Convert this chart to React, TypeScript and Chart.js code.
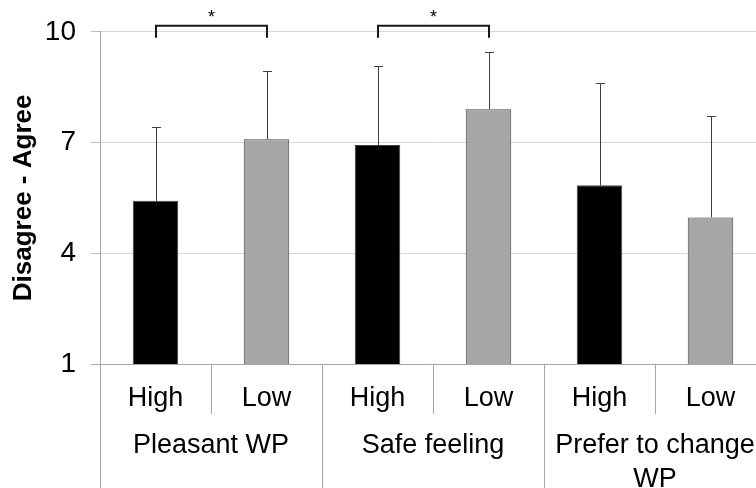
import React, { useEffect, useRef } from "react";
import { Chart, registerables } from "chart.js";

Chart.register(...registerables);

const conditions = ["High", "Low", "High", "Low", "High", "Low"];
const groups: string[][] = [["Pleasant WP"], ["Safe feeling"], ["Prefer to change", "WP"]];
const means = [5.42, 7.09, 6.93, 7.9, 5.84, 4.97];
const sds = [2.0, 1.86, 2.13, 1.56, 2.78, 2.74];
const barColors = ["#000000", "#a6a6a6", "#000000", "#a6a6a6", "#000000", "#a6a6a6"];
const sigPairs: number[][] = [[0, 1], [2, 3]];
const sigLabels = ["*", "*"];
const yTicks = [1, 4, 7, 10];

const FONT = "'Liberation Sans', Arial, sans-serif";

const overlayPlugin = {
  id: "overlay",
  afterDatasetsDraw(chart: any) {
    const ctx = chart.ctx;
    const y = chart.scales.y;
    const meta = chart.getDatasetMeta(0);
    ctx.save();
    ctx.strokeStyle = "#404040";
    ctx.lineWidth = 1;
    means.forEach((m, i) => {
      const bx = Math.round(meta.data[i].x) + 0.5;
      const y0 = y.getPixelForValue(m);
      const y1 = Math.round(y.getPixelForValue(m + sds[i])) + 0.5;
      ctx.beginPath();
      ctx.moveTo(bx, y0);
      ctx.lineTo(bx, y1);
      ctx.moveTo(bx - 4.5, y1);
      ctx.lineTo(bx + 4.5, y1);
      ctx.stroke();
    });
    ctx.restore();
  },
  afterDraw(chart: any) {
    const ctx = chart.ctx;
    const x = chart.scales.x;
    const area = chart.chartArea;
    const H = chart.height;
    const meta = chart.getDatasetMeta(0);
    ctx.save();
    const by = Math.round(area.bottom) + 0.5;
    ctx.strokeStyle = "#a6a6a6";
    ctx.lineWidth = 1;
    ctx.beginPath();
    ctx.moveTo(area.left - 9, by);
    ctx.lineTo(area.right, by);
    ctx.stroke();
    const lx = Math.round(area.left) + 0.5;
    ctx.beginPath();
    ctx.moveTo(lx, area.top);
    ctx.lineTo(lx, H);
    ctx.stroke();
    for (let i = 1; i < conditions.length; i++) {
      const sx = Math.round((x.getPixelForValue(i - 1) + x.getPixelForValue(i)) / 2) + 0.5;
      ctx.beginPath();
      ctx.moveTo(sx, by);
      ctx.lineTo(sx, i % 2 === 0 ? H : area.bottom + 50);
      ctx.stroke();
    }
    ctx.fillStyle = "#000";
    ctx.textAlign = "center";
    ctx.textBaseline = "middle";
    ctx.font = `27px ${FONT}`;
    conditions.forEach((c, i) => {
      ctx.fillText(c, x.getPixelForValue(i), area.bottom + 35);
    });
    groups.forEach((lines, g) => {
      const cx = (x.getPixelForValue(2 * g) + x.getPixelForValue(2 * g + 1)) / 2;
      lines.forEach((ln, k) => {
        ctx.fillText(ln, cx, area.bottom + 82 + k * 34);
      });
    });
    ctx.strokeStyle = "#1a1a1a";
    ctx.lineWidth = 2;
    sigPairs.forEach((p, k) => {
      const x1 = Math.round(meta.data[p[0]].x);
      const x2 = Math.round(meta.data[p[1]].x);
      const yTop = area.top - 6;
      const yLeg = area.top + 6;
      ctx.beginPath();
      ctx.moveTo(x1, yLeg);
      ctx.lineTo(x1, yTop);
      ctx.lineTo(x2, yTop);
      ctx.lineTo(x2, yLeg);
      ctx.stroke();
      ctx.font = `18px ${FONT}`;
      ctx.fillText(sigLabels[k], (x1 + x2) / 2, yTop - 8);
    });
    ctx.restore();
  },
};

export default function App() {
  const ref = useRef<HTMLCanvasElement>(null);
  useEffect(() => {
    document.body.style.margin = "0";
    const chart = new Chart(ref.current as HTMLCanvasElement, {
      type: "bar",
      data: {
        labels: conditions,
        datasets: [
          {
            data: means,
            backgroundColor: barColors,
            borderColor: "#404040",
            borderWidth: 1,
            barPercentage: 0.41,
            categoryPercentage: 1,
          },
        ],
      },
      options: {
        responsive: false,
        animation: false,
        layout: { padding: { left: 0, top: 30, right: 24, bottom: 124 } },
        plugins: { legend: { display: false }, tooltip: { enabled: false } },
        scales: {
          x: { type: "category", display: false, offset: true },
          y: {
            min: 1,
            max: 10,
            afterBuildTicks: (s: any) => {
              s.ticks = yTicks.map((v) => ({ value: v }));
            },
            afterFit: (s: any) => {
              s.width = 100;
            },
            ticks: {
              color: "#000",
              padding: 15,
              font: { size: 28, family: FONT },
            },
            grid: { color: "#d9d9d9", tickLength: 9, tickColor: "#bfbfbf" },
            border: { display: true, color: "#a6a6a6" },
            title: {
              display: true,
              text: "Disagree - Agree",
              color: "#000",
              font: { size: 26, weight: "bold", family: FONT },
              padding: { top: 8, bottom: 0 },
            },
          },
        },
      },
      plugins: [overlayPlugin],
    });
    return () => chart.destroy();
  }, []);
  return (
    <div style={{ position: "relative", width: 756, height: 488, overflow: "hidden" }}>
      <canvas ref={ref} width={790} height={488} style={{ width: 790, height: 488, display: "block" }} />
    </div>
  );
}
